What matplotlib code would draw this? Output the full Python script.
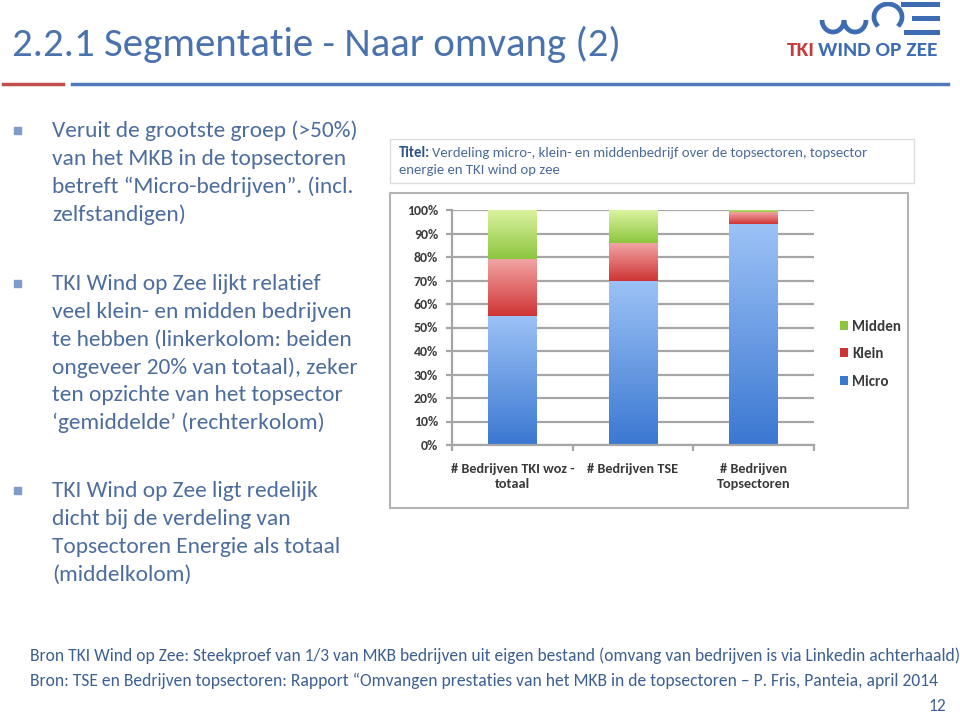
import numpy as np
import matplotlib
matplotlib.use("Agg")
import matplotlib.pyplot as plt
from matplotlib import font_manager
from matplotlib.patches import Rectangle
from matplotlib.colors import LinearSegmentedColormap

# data
categories = ["# Bedrijven TKI woz -\ntotaal", "# Bedrijven TSE", "# Bedrijven\nTopsectoren"]
micro = [0.55, 0.70, 0.94]
klein = [0.24, 0.16, 0.05]
midden = [0.21, 0.14, 0.01]
series_names = ["Micro", "Klein", "Midden"]
yticks = [0, 0.1, 0.2, 0.3, 0.4, 0.5, 0.6, 0.7, 0.8, 0.9, 1.0]

# pick a calibri-like font if there is one
font = "DejaVu Sans"
for f in ["Carlito", "Liberation Sans Narrow", "Roboto Condensed", "Open Sans", "Lato"]:
    try:
        font_manager.findfont(f, fallback_to_default=False)
        font = f
        break
    except ValueError:
        pass
plt.rcParams["font.family"] = [font, "DejaVu Sans"]

W, H = 960, 713
fig = plt.figure(figsize=(9.6, 7.13), dpi=100)
renderer = fig.canvas.get_renderer()

def fx(x):
    return x / W

def fy(y):
    return 1 - y / H

def fit(t, width):
    w = t.get_window_extent(renderer).width
    t.set_fontsize(t.get_fontsize() * width / w)
    return t.get_fontsize()

title_col = "#4a72ae"
body_col = "#4d6d9e"
foot_col = "#3d5f92"

# title + rules
t = fig.text(fx(12), fy(44), "2.2.1 Segmentatie - Naar omvang (2)", color=title_col, fontsize=26, va="center")
fit(t, 610)
fig.add_artist(plt.Line2D([fx(3), fx(63)], [fy(84), fy(84)], color="#c0504d", lw=2.5))
fig.add_artist(plt.Line2D([fx(72), fx(948)], [fy(84), fy(84)], color="#4f7bbb", lw=2.5))

# logo
t2 = fig.text(fx(937), fy(50), "WIND OP ZEE", color="#3d6cb3", fontsize=12, fontweight="bold", ha="right", va="center")
s = fit(t2, 119)
fig.text(fx(787), fy(50), "TKI", color="#c33b3d", fontsize=s, fontweight="bold", ha="left", va="center")
lax = fig.add_axes([fx(815), fy(36), fx(125), 34 / H])
lax.set_xlim(815, 940)
lax.set_ylim(36, 2)
lax.axis("off")
u = np.linspace(np.pi, 2 * np.pi, 40)
lax.plot(833 + 11 * np.cos(u), 20 - 12 * np.sin(u), color="#3d6cb3", lw=3.4, solid_capstyle="butt")
lax.plot(855 + 11 * np.cos(u), 20 - 12 * np.sin(u), color="#3d6cb3", lw=3.4, solid_capstyle="butt")
a = np.linspace(np.radians(-35), np.radians(215), 60)
lax.plot(888 + 14 * np.cos(a), 17 - 13 * np.sin(a), color="#3d6cb3", lw=3.4)
lax.plot([903, 937], [4, 4], color="#3d6cb3", lw=3.6)
lax.plot([914, 937], [18, 18], color="#3d6cb3", lw=3.6)
lax.plot([906, 937], [32, 32], color="#3d6cb3", lw=3.6)

# left bullet text
blocks = [
    (131, ["Veruit de grootste groep (>50%)", "van het MKB in de topsectoren",
           "betreft \u201cMicro-bedrijven\u201d. (incl.", "zelfstandigen)"]),
    (284, ["TKI Wind op Zee lijkt relatief", "veel klein- en midden bedrijven",
           "te hebben (linkerkolom: beiden", "ongeveer 20% van totaal), zeker",
           "ten opzichte van het topsector", "\u2018gemiddelde\u2019 (rechterkolom)"]),
    (491, ["TKI Wind op Zee ligt redelijk", "dicht bij de verdeling van",
           "Topsectoren Energie als totaal", "(middelkolom)"]),
]
probe = fig.text(0, 0, blocks[0][1][0], fontsize=16)
bs = fit(probe, 306)
probe.remove()
for y0, lines in blocks:
    fig.add_artist(Rectangle((fx(14), fy(y0 + 3)), 7 / W, 7 / H, color="#7f9ccb", transform=fig.transFigure))
    for i, line in enumerate(lines):
        fig.text(fx(52), fy(y0 + i * 27.8), line, color=body_col, fontsize=bs, va="center")

# chart frame and title box
fig.add_artist(Rectangle((fx(390), fy(508)), 518 / W, 315 / H, facecolor="white",
                         edgecolor="#b4b4b4", lw=1.5, transform=fig.transFigure, zorder=-1))
fig.add_artist(Rectangle((fx(390), fy(183)), 524 / W, 44 / H, facecolor="white",
                         edgecolor="#dcdcdc", lw=1, transform=fig.transFigure, zorder=-1))
tt = fig.text(fx(399), fy(153), "Titel:", color="#2f5289", fontsize=8.5, fontweight="bold", va="center")
tw = tt.get_window_extent(renderer).width
tl = fig.text(fx(399) + (tw + 2) / W, fy(153),
              "Verdeling micro-, klein- en middenbedrijf over de topsectoren, topsector",
              color="#4b6a9a", fontsize=8.5, va="center")
w_all = tw + 2 + tl.get_window_extent(renderer).width
scale = 464 / w_all
tt.set_fontsize(8.5 * scale)
tl.set_fontsize(8.5 * scale)
tw = tt.get_window_extent(renderer).width
tl.set_x(fx(399) + (tw + 2) / W)
fig.text(fx(399), fy(170), "energie en TKI wind op zee", color="#4b6a9a", fontsize=8.5 * scale, va="center")

# chart
ax = fig.add_axes([fx(452), fy(445), 362 / W, 235 / H])
x = np.arange(len(categories))
bw = 0.405
grad_cols = {
    "Micro": ("#3b78d2", "#9cc2f6"),
    "Klein": ("#cf3434", "#f2a4a4"),
    "Midden": ("#8cc63f", "#dcf3a0"),
}
bottom = np.zeros(len(categories))
conts = []
for name, vals in zip(series_names, [micro, klein, midden]):
    dark, light = grad_cols[name]
    c = ax.bar(x, vals, bw, bottom=bottom, color=dark, label=name, zorder=2, lw=0)
    cmap = LinearSegmentedColormap.from_list(name, [dark, light])
    grad = np.linspace(0, 1, 200).reshape(-1, 1)
    for p in c.patches:
        x0, y0 = p.get_x(), p.get_y()
        im = ax.imshow(grad, extent=[x0, x0 + p.get_width(), y0, y0 + p.get_height()],
                       origin="lower", aspect="auto", cmap=cmap, zorder=2.1, interpolation="bilinear")
        im.set_clip_path(p)
    conts.append(c)
    bottom += np.array(vals)

ax.set_xlim(-0.5, 2.5)
ax.set_ylim(0, 1)
ax.set_yticks(yticks)
ax.set_yticklabels([f"{int(round(v * 100))}%" for v in yticks])
ax.yaxis.grid(True, color="#a6a6a6", lw=1.6, zorder=0)
ax.set_axisbelow(True)
for sp in ["top", "right"]:
    ax.spines[sp].set_visible(False)
for sp in ["left", "bottom"]:
    ax.spines[sp].set_color("#a6a6a6")
    ax.spines[sp].set_linewidth(1.6)
ax.tick_params(axis="y", length=4, width=1.6, color="#a6a6a6", labelsize=10, labelcolor="#3a3a3a", pad=6)
ax.set_xticks(x)
ax.set_xticklabels(categories)
ax.set_xticks([-0.5, 0.5, 1.5, 2.5], minor=True)
ax.tick_params(axis="x", which="major", length=0, labelsize=10.3, labelcolor="#3a3a3a", pad=13)
ax.tick_params(axis="x", which="minor", length=4, width=1.6, color="#a6a6a6")
for lab in ax.get_xticklabels() + ax.get_yticklabels():
    lab.set_fontweight("bold")
    lab.set_linespacing(1.3)

leg = ax.legend(handles=conts[::-1], labels=series_names[::-1], loc="center left",
                bbox_to_anchor=(fx(840), fy(354)), bbox_transform=fig.transFigure,
                frameon=False, fontsize=10.8, handlelength=0.55, handleheight=0.55,
                handletextpad=0.25, labelspacing=0.9, borderpad=0, borderaxespad=0)
for txt in leg.get_texts():
    txt.set_color("#3a3a3a")
    txt.set_fontweight("bold")

# footnotes
f1 = fig.text(fx(30), fy(656),
              "Bron TKI Wind op Zee: Steekproef van 1/3 van MKB bedrijven uit eigen bestand (omvang van bedrijven is via Linkedin achterhaald)",
              color=foot_col, fontsize=11, va="center")
fs = fit(f1, 928)
fig.text(fx(30), fy(681),
         "Bron: TSE en Bedrijven topsectoren: Rapport \u201cOmvangen prestaties van het MKB in de topsectoren \u2013 P. Fris, Panteia, april 2014",
         color=foot_col, fontsize=fs, va="center")
fig.text(fx(946), fy(706), "12", color=foot_col, fontsize=fs, va="center", ha="right")

fig.savefig("out.png", dpi=100)
